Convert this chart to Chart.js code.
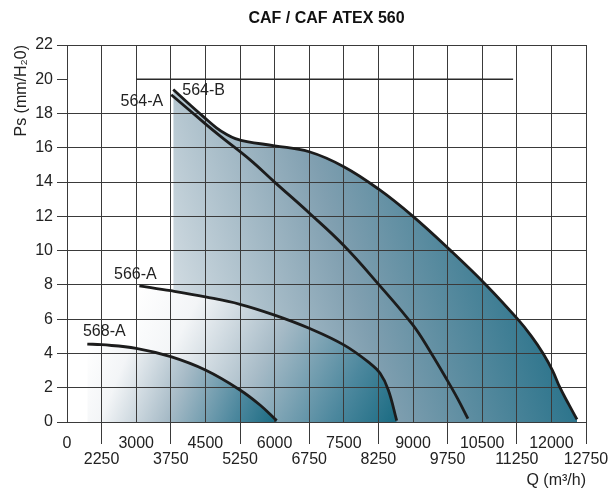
<!DOCTYPE html>
<html><head><meta charset="utf-8">
<script src="https://cdn.jsdelivr.net/npm/chart.js@4.4.1/dist/chart.umd.min.js"></script>
<style>html,body{margin:0;padding:0;background:#fff;}canvas{display:block;}</style>
</head><body>
<canvas id="c" width="610" height="490"></canvas>
<script>
// Tick values of the (piecewise) Q axis and Ps axis
const qTicks = [0, 2250, 3000, 3750, 4500, 5250, 6000, 6750, 7500, 8250, 9000, 9750, 10500, 11250, 12000, 12750];
const pTicks = [0, 2, 4, 6, 8, 10, 12, 14, 16, 18, 20, 22];

// Curve names
const names = ['564-A', '564-B', '566-A', '568-A'];

// 564-B (outer envelope)
const q564B = [3803, 4140, 4455, 4740, 4962, 5150, 5400, 6000, 6750, 7500, 8250, 9000, 9817, 10583, 11270, 11569, 11820, 12025, 12187, 12383, 12555];
const p564B = [19.4, 18.57, 17.82, 17.17, 16.78, 16.54, 16.36, 16.12, 15.77, 14.9, 13.6, 12.0, 10.0, 8.0, 6.0, 5.0, 4.0, 3.0, 2.0, 1.0, 0.15];
// 564-A
const q564A = [3760, 4500, 4815, 5470, 6000, 6750, 7500, 8250, 9000, 9375, 9750, 9970, 10190];
const p564A = [19.1, 17.4, 16.7, 15.3, 14.0, 12.2, 10.3, 8.05, 5.65, 4.1, 2.4, 1.35, 0.2];
// 566-A
const q566A = [3068, 3750, 4500, 5250, 6000, 6750, 7500, 8070, 8287, 8465, 8647];
const p566A = [7.95, 7.66, 7.3, 6.87, 6.24, 5.47, 4.5, 3.42, 2.84, 1.87, 0.08];
// 568-A
const q568A = [1320, 2250, 3000, 3750, 4500, 5250, 5684, 6045];
const p568A = [4.55, 4.51, 4.3, 3.81, 3.03, 1.87, 0.99, 0.08];
// reference line at 20
const qRef = [3000, 11170];
const pRef = [20, 20];

function qToAxis(q) {
  for (let i = 0; i < qTicks.length - 1; i++) {
    if (q <= qTicks[i + 1]) return i + (q - qTicks[i]) / (qTicks[i + 1] - qTicks[i]);
  }
  return qTicks.length - 1;
}
function pts(qs, ps) { return qs.map((q, i) => ({x: qToAxis(q), y: ps[i]})); }

function regionGradient(qs, ps, from, to, stops) {
  return function (ctx) {
    const chart = ctx.chart;
    const xs = chart.scales.x, ys = chart.scales.y;
    if (!chart.chartArea || !xs || !ys) return 'rgba(0,0,0,0)';
    const x0 = xs.getPixelForValue(qToAxis(qs[0]));
    const x1 = xs.getPixelForValue(qToAxis(qs[qs.length - 1]));
    const yT = ys.getPixelForValue(Math.max.apply(null, ps));
    const yB = ys.getPixelForValue(0);
    const g = chart.ctx.createLinearGradient(
      x0 + (x1 - x0) * from[0], yT + (yB - yT) * from[1],
      x0 + (x1 - x0) * to[0], yT + (yB - yT) * to[1]);
    stops.forEach(s => g.addColorStop(s[0], s[1]));
    return g;
  };
}

const lightStops = [[0, '#ffffff'], [0.2, '#f3f5f7'], [0.5, '#a7bbc7'], [0.8, '#4d889e'], [1, '#1a6b82']];
const outerStops = [[0, '#e2e8ec'], [0.5, '#809fb0'], [1, '#1c6c85']];

const FONT = "'Liberation Sans', Arial, Helvetica, sans-serif";
Chart.defaults.font.family = FONT;
Chart.defaults.font.size = 16;
Chart.defaults.color = '#222';

const lineBase = {borderColor: '#1c1c1c', borderWidth: 2.8, pointRadius: 0, tension: 0.4, borderCapStyle: 'butt'};

const labelPlugin = {
  id: 'curveLabels',
  beforeDatasetsDraw(chart) {
    // grid above the filled regions, below the curves
    chart.scales.x.drawGrid(chart.chartArea);
    chart.scales.y.drawGrid(chart.chartArea);
  },
  afterDatasetsDraw(chart) {
    const c = chart.ctx;
    c.save();
    c.font = '16px ' + FONT;
    c.fillStyle = '#222';
    c.textBaseline = 'middle';
    const place = {
      '564-A': ['right', -8, 7],
      '564-B': ['left', 9, 1],
      '566-A': ['center', -4, -11],
      '568-A': ['center', 17, -12]
    };
    chart.data.datasets.forEach((ds, i) => {
      if (!ds.curveName) return;
      const p = chart.getDatasetMeta(i).data[0];
      const o = place[ds.curveName];
      c.textAlign = o[0];
      c.fillText(ds.curveName, p.x + o[1], p.y + o[2]);
    });
    c.restore();
  }
};

new Chart(document.getElementById('c'), {
  type: 'line',
  data: {
    datasets: [
      Object.assign({}, lineBase, {curveName: names[0], data: pts(q564A, p564A), fill: false}),
      {data: pts(qRef, pRef), borderColor: '#2a2a2a', borderWidth: 1.6, pointRadius: 0, fill: false},
      Object.assign({}, lineBase, {curveName: names[3], data: pts(q568A, p568A), fill: 'origin',
        backgroundColor: regionGradient(q568A, p568A, [0, 0], [1, 1], lightStops)}),
      Object.assign({}, lineBase, {curveName: names[2], data: pts(q566A, p566A), fill: 'origin',
        backgroundColor: regionGradient(q566A, p566A, [0, 0], [1, 1], lightStops)}),
      Object.assign({}, lineBase, {curveName: names[1], data: pts(q564B, p564B), fill: 'origin',
        backgroundColor: regionGradient(q564B, p564B, [0, 1], [1, 0.63], outerStops)})
    ]
  },
  options: {
    responsive: false,
    animation: false,
    layout: {padding: {left: 0, right: 24, top: 0, bottom: 0}},
    plugins: {
      legend: {display: false},
      tooltip: {enabled: false},
      filler: {drawTime: 'beforeDatasetsDraw'},
      title: {
        display: true, text: 'CAF / CAF ATEX 560', fullSize: false,
        font: {size: 16, weight: 'bold'}, color: '#111',
        padding: {top: 9, bottom: 16.8}
      }
    },
    scales: {
      x: {
        type: 'linear', min: 0, max: qTicks.length - 1,
        afterFit(s) { s.height = 68; },
        afterBuildTicks(s) { s.ticks = qTicks.map((_, i) => ({value: i})); },
        grid: {
          color: '#3a3a3a', lineWidth: 1, tickLength: 22,
          tickColor: (ctx) => (ctx.index % 2 === 1 ? '#3a3a3a' : 'rgba(0,0,0,0)')
        },
        border: {color: '#333', width: 1},
        ticks: {
          autoSkip: false, maxRotation: 0, minRotation: 0, padding: -8.5,
          font: {size: 16, lineHeight: 1},
          callback: (v, i) => (i % 2 === 0 ? [String(qTicks[v]), ''] : ['', String(qTicks[v])])
        },
        title: {display: true, text: 'Q (m³/h)', align: 'end', font: {size: 16}, padding: {top: 0, bottom: 0}}
      },
      y: {
        type: 'linear', min: pTicks[0], max: pTicks[pTicks.length - 1],
        afterFit(s) { s.width = 67; },
        afterBuildTicks(s) { s.ticks = pTicks.map(v => ({value: v})); },
        grid: {
          color: (ctx) => (ctx.tick && ctx.tick.value === 20 ? 'rgba(0,0,0,0)' : '#3a3a3a'),
          tickColor: '#3a3a3a', lineWidth: 1, tickLength: 10
        },
        border: {color: '#333', width: 1},
        ticks: {padding: 4, font: {size: 16}, callback: (v) => String(v)},
        title: {display: true, text: 'Ps (mm/H₂0)', align: 'end', font: {size: 16}, padding: {top: 12, bottom: 0}}
      }
    }
  },
  plugins: [labelPlugin]
});
</script>
</body></html>
